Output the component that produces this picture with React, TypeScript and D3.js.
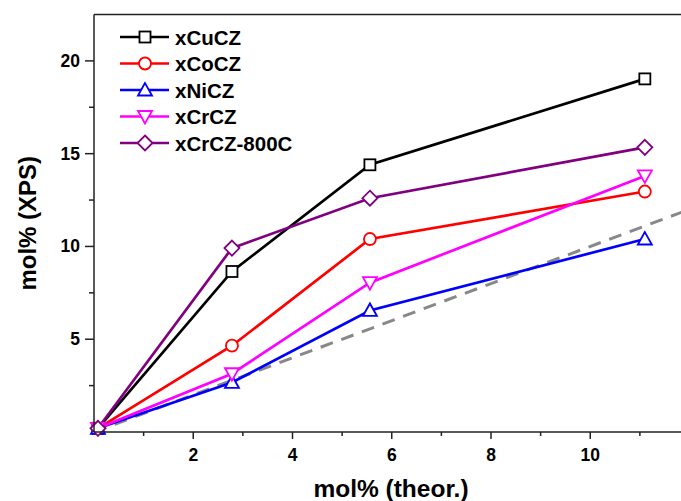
import React from "react";
import * as d3 from "d3";

const xValues = [0.08, 2.78, 5.56, 11.1];
const seriesNames = ["xCuCZ", "xCoCZ", "xNiCZ", "xCrCZ", "xCrCZ-800C"];
const seriesColors = ["#000000", "#ff0000", "#0000ff", "#ff00ff", "#800080"];
const seriesSymbols = ["square", "circle", "triangle", "triangleDown", "diamond"];
const cuValues = [0.2, 8.65, 14.4, 19.03];
const coValues = [0.2, 4.65, 10.4, 12.96];
const niValues = [0.2, 2.67, 6.55, 10.4];
const crValues = [0.2, 3.14, 8.05, 13.8];
const cr800Values = [0.2, 9.91, 12.6, 15.34];
const seriesValues = [cuValues, coValues, niValues, crValues, cr800Values];
const refLineX = [0, 12];
const xTicks = [2, 4, 6, 8, 10];
const xMinorTicks = [1, 3, 5, 7, 9, 11];
const yTicks = [5, 10, 15, 20];
const yMinorTicks = [2.5, 7.5, 12.5, 17.5];

const W = 681;
const H = 501;
const left = 94;
const top = 14.5;
const bottom = 432;

function Marker({ kind, x, y, color }: { kind: string; x: number; y: number; color: string }) {
  const sw = 1.8;
  if (kind === "square") {
    return <rect x={x - 5.5} y={y - 5.5} width={11} height={11} fill="white" stroke={color} strokeWidth={sw} />;
  }
  if (kind === "circle") {
    return <circle cx={x} cy={y} r={6} fill="white" stroke={color} strokeWidth={sw} />;
  }
  if (kind === "triangle") {
    const p = [[x, y - 7], [x - 7, y + 5.5], [x + 7, y + 5.5]];
    return <polygon points={p.map((q) => q.join(",")).join(" ")} fill="white" stroke={color} strokeWidth={sw} />;
  }
  if (kind === "triangleDown") {
    const p = [[x, y + 7], [x - 7, y - 5.5], [x + 7, y - 5.5]];
    return <polygon points={p.map((q) => q.join(",")).join(" ")} fill="white" stroke={color} strokeWidth={sw} />;
  }
  const p = [[x, y - 7.5], [x + 7.5, y], [x, y + 7.5], [x - 7.5, y]];
  return <polygon points={p.map((q) => q.join(",")).join(" ")} fill="white" stroke={color} strokeWidth={sw} />;
}

export default function App() {
  const x = d3.scaleLinear().domain([0, 12]).range([left, 689.5]);
  const y = d3.scaleLinear().domain([0, 22.5]).range([bottom, top]);
  const line = d3
    .line<number>()
    .x((_, i) => x(xValues[i]))
    .y((d) => y(d));
  const refLine = d3
    .line<number>()
    .x((d) => x(d))
    .y((d) => y(d));
  const font = "'Liberation Sans', Arial, sans-serif";
  const axisColor = "#222";

  const legendY0 = 37;
  const legendDy = 26.5;

  return (
    <svg width={W} height={H} style={{ position: "absolute", left: 0, top: 0 }} fontFamily={font}>
      <rect width={W} height={H} fill="white" />
      {/* reference dashed line */}
      <path d={refLine(refLineX) || ""} fill="none" stroke="#888" strokeWidth={3} strokeDasharray="13,9" />
      {/* series lines */}
      {seriesValues.map((vals, si) => (
        <path key={"l" + si} d={line(vals) || ""} fill="none" stroke={seriesColors[si]} strokeWidth={2.7} />
      ))}
      {seriesValues.map((vals, si) => (
        <g key={"m" + si}>
          {vals.map((v, i) => (
            <Marker key={i} kind={seriesSymbols[si]} x={x(xValues[i])} y={y(v)} color={seriesColors[si]} />
          ))}
        </g>
      ))}
      {/* axes */}
      <line x1={left} x2={W} y1={top} y2={top} stroke={axisColor} strokeWidth={1.5} />
      <line x1={left} x2={left} y1={top} y2={bottom} stroke={axisColor} strokeWidth={1.5} />
      <line x1={left} x2={W} y1={bottom} y2={bottom} stroke={axisColor} strokeWidth={1.5} />
      {xTicks.map((t) => (
        <g key={"xt" + t}>
          <line x1={x(t)} x2={x(t)} y1={bottom} y2={bottom + 7} stroke={axisColor} strokeWidth={1.5} />
          <text x={x(t)} y={461} textAnchor="middle" fontSize={17.5} fontWeight="bold" fill="#000">
            {t}
          </text>
        </g>
      ))}
      {xMinorTicks.map((t) => (
        <line key={"xm" + t} x1={x(t)} x2={x(t)} y1={bottom} y2={bottom + 4} stroke={axisColor} strokeWidth={1.5} />
      ))}
      {yTicks.map((t) => (
        <g key={"yt" + t}>
          <line x1={left} x2={left - 9} y1={y(t)} y2={y(t)} stroke={axisColor} strokeWidth={1.5} />
          <text x={80} y={y(t) + 6} textAnchor="end" fontSize={17.5} fontWeight="bold" fill="#000">
            {t}
          </text>
        </g>
      ))}
      {yMinorTicks.map((t) => (
        <line key={"ym" + t} x1={left} x2={left - 5} y1={y(t)} y2={y(t)} stroke={axisColor} strokeWidth={1.5} />
      ))}
      {/* axis titles */}
      <text x={391} y={497} textAnchor="middle" fontSize={24.5} fontWeight="bold" fill="#000">
        mol% (theor.)
      </text>
      <text
        transform={`translate(36,${(top + bottom) / 2}) rotate(-90)`}
        textAnchor="middle"
        fontSize={24}
        fontWeight="bold"
        fill="#000"
      >
        mol% (XPS)
      </text>
      {/* legend */}
      {seriesNames.map((name, si) => {
        const ly = legendY0 + si * legendDy;
        return (
          <g key={"lg" + si}>
            <line x1={120} x2={169} y1={ly} y2={ly} stroke={seriesColors[si]} strokeWidth={2.7} />
            <Marker kind={seriesSymbols[si]} x={145} y={ly} color={seriesColors[si]} />
            <text x={175} y={ly + 7.5} fontSize={20.5} fontWeight="bold" fill="#000">
              {name}
            </text>
          </g>
        );
      })}
    </svg>
  );
}
